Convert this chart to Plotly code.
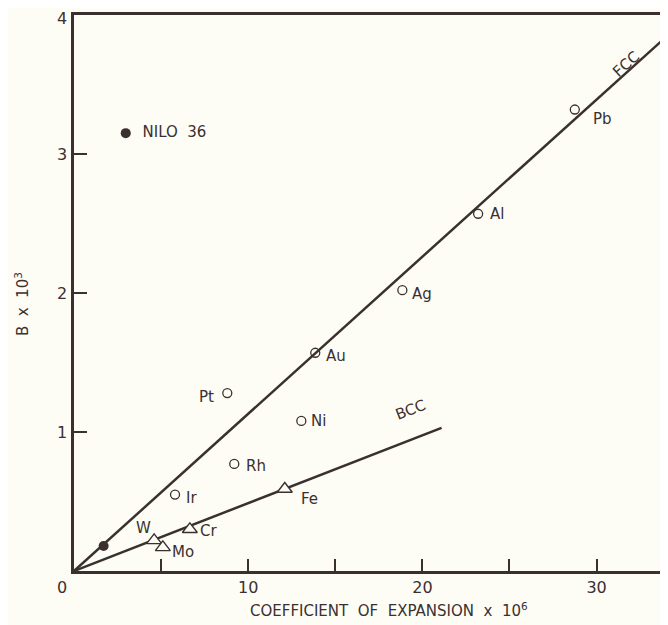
import plotly.graph_objects as go

# ---------------- Data ----------------
fcc_metals = ["Pb", "Al", "Ag", "Au", "Pt", "Ni", "Rh", "Ir"]
fcc_expansion = [28.75, 23.2, 18.85, 13.85, 8.8, 13.05, 9.2, 5.8]
fcc_b = [3.32, 2.57, 2.02, 1.57, 1.28, 1.08, 0.77, 0.55]

bcc_metals = ["Fe", "Cr", "W", "Mo"]
bcc_expansion = [12.1, 6.65, 4.6, 5.1]
bcc_b = [0.59, 0.30, 0.22, 0.17]

nilo_expansion = [1.7]
nilo_b = [0.18]

fcc_line_x = [0, 33.7]
fcc_line_y = [0, 3.81]
bcc_line_x = [0, 21.1]
bcc_line_y = [0, 1.03]

x_ticks = [10, 20, 30]
y_ticks = [1, 2, 3, 4]

INK = "#3b3030"
BG = "#fdfdf6"
FONT = "DejaVu Sans"

# label offsets in pixels (dx, dy up)
fcc_offsets = {"Pb": (28, -9), "Al": (19, 0), "Ag": (20, -4), "Au": (21, -3),
               "Pt": (-21, -4), "Ni": (17, 0), "Rh": (22, -2), "Ir": (16, -3)}
bcc_offsets = {"Fe": (25, -10), "Cr": (19, -2), "W": (-11, 12), "Mo": (20, -5)}

fig = go.Figure()

fig.add_trace(go.Scatter(x=fcc_line_x, y=fcc_line_y, mode="lines",
                         line=dict(color=INK, width=2.5), hoverinfo="skip"))
fig.add_trace(go.Scatter(x=bcc_line_x, y=bcc_line_y, mode="lines",
                         line=dict(color=INK, width=2.5), hoverinfo="skip"))

fig.add_trace(go.Scatter(x=fcc_expansion, y=fcc_b, mode="markers", text=fcc_metals,
                         marker=dict(symbol="circle-open", size=9, color=INK,
                                     line=dict(width=1.3, color=INK))))
fig.add_trace(go.Scatter(x=bcc_expansion, y=bcc_b, mode="markers", text=bcc_metals,
                         marker=dict(symbol="triangle-up", size=13, color=BG,
                                     line=dict(width=1.4, color=INK))))
fig.add_trace(go.Scatter(x=nilo_expansion, y=nilo_b, mode="markers",
                         marker=dict(symbol="circle", size=10, color=INK)))

# key for NILO 36
fig.add_trace(go.Scatter(x=[2.97], y=[3.15], mode="markers+text", text=["  NILO  36"],
                         textposition="middle right",
                         textfont=dict(family=FONT, size=15, color=INK),
                         marker=dict(symbol="circle", size=10, color=INK)))

for name, x, y in zip(fcc_metals, fcc_expansion, fcc_b):
    dx, dy = fcc_offsets[name]
    fig.add_annotation(x=x, y=y, text=name, showarrow=False, xshift=dx, yshift=dy,
                       font=dict(family=FONT, size=15, color=INK))
for name, x, y in zip(bcc_metals, bcc_expansion, bcc_b):
    dx, dy = bcc_offsets[name]
    fig.add_annotation(x=x, y=y, text=name, showarrow=False, xshift=dx, yshift=dy,
                       font=dict(family=FONT, size=15, color=INK))

fig.add_annotation(x=31.7, y=3.65, text="FCC", showarrow=False, textangle=-42,
                   font=dict(family=FONT, size=15, color=INK))
fig.add_annotation(x=19.3, y=1.16, text="BCC", showarrow=False, textangle=-21,
                   font=dict(family=FONT, size=15, color=INK))

# y tick labels drawn as text so the top one is not dropped at the edge
for v in y_ticks:
    fig.add_annotation(x=0, y=v, text=str(v), showarrow=False, xanchor="center",
                       xshift=-12, yshift=-3 if v == 4 else 0,
                       font=dict(family=FONT, size=16, color=INK))

# origin label
fig.add_annotation(x=0, y=0, text="0", showarrow=False, xshift=-12, yshift=-16,
                   font=dict(family=FONT, size=16, color=INK))

# axis titles
fig.add_annotation(xref="paper", yref="paper", x=0.53, y=0, yanchor="top", yshift=-27,
                   text="COEFFICIENT  OF  EXPANSION  x  10<sup>6</sup>", showarrow=False,
                   font=dict(family=FONT, size=15, color=INK))
fig.add_annotation(xref="paper", yref="paper", x=0, y=0.48, xanchor="center", xshift=-52,
                   text="B  x  10<sup>3</sup>", showarrow=False, textangle=-90,
                   font=dict(family=FONT, size=15, color=INK))

fig.update_xaxes(range=[0, 34.1], tickvals=x_ticks,
                 ticks="inside", ticklen=12, tickwidth=1.5, tickcolor=INK,
                 minor=dict(tick0=0, dtick=5, ticks="inside", ticklen=12,
                            tickwidth=1.5, tickcolor=INK, showgrid=False),
                 showline=True, linecolor=INK, linewidth=2.5, mirror=True,
                 showgrid=False, zeroline=False,
                 tickfont=dict(family=FONT, size=16, color=INK))
fig.update_yaxes(range=[0, 4], tickvals=y_ticks, showticklabels=False,
                 ticks="inside", ticklen=13,
                 tickwidth=1.5, tickcolor=INK, showline=True, linecolor=INK, linewidth=2.5,
                 showgrid=False, zeroline=False)

# page body adds an 8px offset, so the figure is sized to fit the window
fig.update_layout(width=660, height=617, margin=dict(l=66, r=0, t=7, b=54),
                  paper_bgcolor=BG, plot_bgcolor=BG, showlegend=False,
                  font=dict(family=FONT, color=INK))

fig.write_html("out.html")
